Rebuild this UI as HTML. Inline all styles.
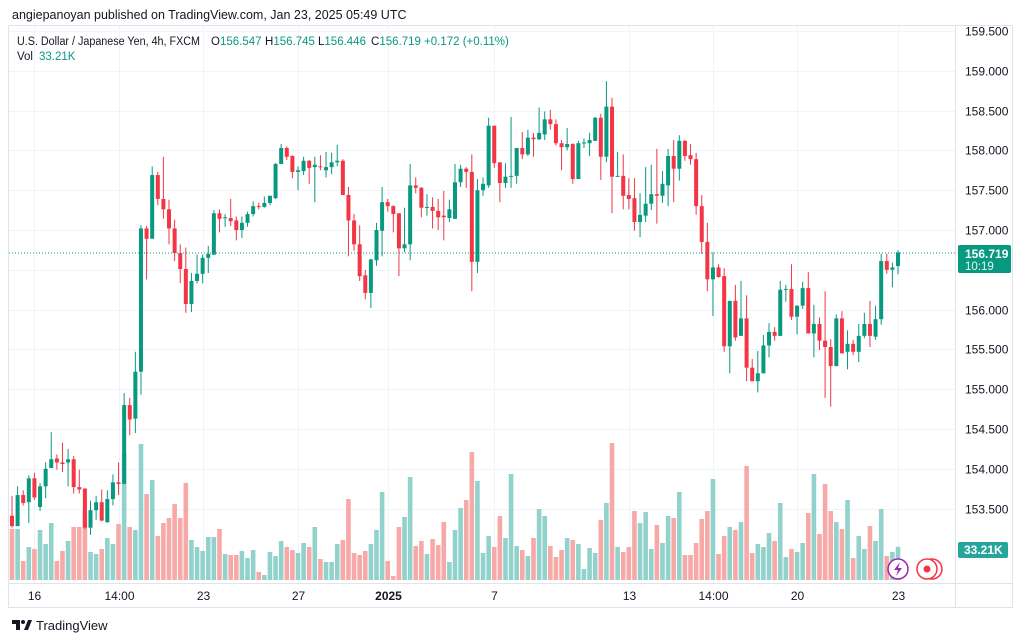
<!DOCTYPE html>
<html><head><meta charset="utf-8">
<style>
body{margin:0;background:#fff;width:1024px;height:641px;overflow:hidden;font-family:"Liberation Sans",sans-serif;}
svg{position:absolute;left:0;top:0;}
</style></head>
<body>
<svg id="chart" width="1024" height="641" xmlns="http://www.w3.org/2000/svg">
  <text x="12" y="19" font-size="12.5" fill="#131722">angiepanoyan published on TradingView.com, Jan 23, 2025 05:49 UTC</text>
  <rect x="8.5" y="25.5" width="1004" height="582" fill="none" stroke="#e0e3eb"/>
  <g id="grid"></g>
  <g id="vol"></g>
  <g id="candles"></g>
  <line x1="9" x2="955" y1="253" y2="253" stroke="#089981" stroke-dasharray="1,2"/>
  <line x1="955.5" x2="955.5" y1="26" y2="607" stroke="#e0e3eb"/>
  <line x1="9" x2="1013" y1="583.5" y2="583.5" stroke="#e0e3eb"/>
  <g id="yaxis"></g>
  <g id="xaxis"></g>
  <g font-size="11.5">
    <text x="17" y="45" fill="#131722" textLength="183" lengthAdjust="spacingAndGlyphs">U.S. Dollar / Japanese Yen, 4h, FXCM</text>
    <text x="211" y="45" fill="#131722">O<tspan fill="#089981">156.547</tspan></text>
    <text x="265" y="45" fill="#131722">H<tspan fill="#089981">156.745</tspan></text>
    <text x="318" y="45" fill="#131722">L<tspan fill="#089981">156.446</tspan></text>
    <text x="371" y="45" fill="#131722">C<tspan fill="#089981">156.719</tspan></text>
    <text x="424" y="45" fill="#089981">+0.172 (+0.11%)</text>
    <text x="17" y="60" fill="#131722">Vol</text>
    <text x="39" y="60" fill="#089981">33.21K</text>
  </g>
  <g>
    <rect x="958" y="245" width="53" height="28" rx="2" fill="#089981"/>
    <text x="965" y="258" font-size="12" font-weight="bold" fill="#fff">156.719</text>
    <text x="965" y="270" font-size="11.5" fill="#e6f5f2">10:19</text>
  </g>
  <g>
    <rect x="958" y="542" width="50" height="16" rx="2" fill="#26a69a"/>
    <text x="964" y="554" font-size="12" font-weight="bold" fill="#fff">33.21K</text>
  </g>
  <g>
    <circle cx="898" cy="569" r="10" fill="#fff" stroke="#9c27b0" stroke-width="1.5"/>
    <path d="M900 562 L894 570 L898 570 L896 576 L902 568 L898 568 Z" fill="#9c27b0"/>
  </g>
  <g>
    <circle cx="932" cy="569" r="10" fill="#fff" stroke="#f23645" stroke-width="1.5"/>
    <circle cx="927" cy="569" r="10" fill="#fff" stroke="#f23645" stroke-width="1.5"/>
    <circle cx="927" cy="569" r="3.5" fill="#f23645"/>
  </g>
  <g>
    <path d="M12 620 h8 v10 h-4 v-6 h-4 z" fill="#131722"/>
    <circle cx="23" cy="622" r="2" fill="#131722"/>
    <path d="M24 630 l4 -10 h4 l-4 10 z" fill="#131722"/>
    <text x="36" y="630" font-size="13" fill="#131722">TradingView</text>
  </g>
</svg>
<script>
const opens=[153.41,153.28,153.67,153.58,153.88,153.52,153.78,154.01,154.13,154.08,154.08,154.12,153.77,153.75,153.26,153.48,153.58,153.33,153.62,153.83,153.81,154.80,154.63,155.22,157.02,156.89,157.69,157.39,157.26,157.02,156.71,156.51,156.07,156.36,156.45,156.65,156.69,157.21,157.15,157.15,157.12,157.00,157.09,157.20,157.30,157.29,157.34,157.40,157.83,158.03,157.93,157.73,157.74,157.87,157.79,157.80,157.75,157.79,157.85,157.87,157.44,157.12,156.82,156.43,156.21,156.62,156.99,157.35,157.30,157.21,156.77,156.82,157.56,157.53,157.28,157.29,157.24,157.18,157.15,157.14,157.60,157.77,157.73,156.60,157.50,157.56,158.31,157.85,157.59,157.67,157.68,158.03,157.95,158.16,158.14,158.20,158.39,158.33,158.09,158.04,158.08,157.64,158.09,158.09,158.12,158.41,157.92,158.55,157.67,157.68,157.44,157.40,157.10,157.18,157.33,157.45,157.43,157.56,157.93,157.77,158.12,157.94,157.89,157.30,156.85,156.38,156.53,156.42,155.54,156.11,155.67,155.89,155.27,155.10,155.20,155.55,155.72,155.67,156.25,156.26,155.91,156.05,156.27,155.70,155.82,155.61,155.53,155.29,155.89,155.47,155.57,155.47,155.67,155.82,155.66,155.88,156.61,156.50,156.547];
const highs=[153.66,153.78,153.73,153.92,153.95,153.82,154.08,154.46,154.18,154.33,154.25,154.16,153.99,153.76,153.60,153.66,153.74,153.73,153.93,154.08,154.95,154.89,155.47,157.06,157.05,157.80,157.73,157.92,157.38,157.13,156.82,156.78,156.46,156.69,156.69,156.80,157.25,157.26,157.20,157.39,157.17,157.17,157.23,157.36,157.34,157.42,157.42,157.84,158.08,158.05,157.94,157.80,157.92,157.88,157.92,157.94,157.98,157.97,158.07,157.89,157.54,157.20,157.06,156.50,156.64,157.09,157.54,157.39,157.31,157.21,157.28,157.83,157.66,157.54,157.45,157.41,157.39,157.49,157.38,157.83,157.82,157.79,157.95,157.64,157.66,158.41,158.31,157.85,157.84,158.42,158.03,158.23,158.26,158.22,158.54,158.49,158.51,158.39,158.13,158.28,158.09,158.12,158.15,158.22,158.42,158.46,158.87,158.66,157.98,157.95,157.65,157.65,157.46,157.79,157.82,158.02,157.74,158.02,158.13,158.19,158.13,158.08,157.97,157.44,157.09,156.72,156.57,156.52,156.11,156.31,156.36,156.18,155.38,155.48,155.68,155.83,155.78,156.36,156.31,156.57,156.05,156.35,156.47,156.06,155.90,156.23,155.63,155.94,155.98,155.74,155.62,155.82,155.96,156.11,156.05,156.70,156.70,156.59,156.745];
const lows=[153.26,153.28,153.54,153.32,153.61,153.47,153.63,154.01,153.99,153.96,153.78,153.69,153.69,153.24,153.17,153.36,153.34,153.32,153.54,153.67,153.81,154.42,154.45,154.93,156.38,156.89,157.31,157.14,156.82,156.61,156.33,155.96,155.97,156.33,156.33,156.46,156.69,156.97,157.04,157.05,156.87,156.90,157.04,157.17,157.26,157.28,157.31,157.39,157.83,157.88,157.65,157.50,157.69,157.58,157.35,157.75,157.66,157.70,157.80,157.44,156.67,156.74,156.36,156.13,156.02,156.55,156.67,157.23,156.97,156.42,156.72,156.62,157.46,157.16,157.18,157.02,157.00,156.87,157.10,157.14,157.54,157.53,156.23,156.46,157.43,157.53,157.78,157.35,157.53,157.53,157.58,157.89,157.93,157.92,158.13,158.13,158.26,158.06,157.75,158.00,157.58,157.64,158.03,157.93,158.12,157.63,157.85,157.21,157.67,157.26,157.26,156.99,156.91,157.10,157.25,157.08,157.34,157.30,157.35,157.62,157.87,157.82,157.19,156.70,156.23,155.92,156.40,155.47,155.20,155.61,155.67,155.10,155.10,154.96,155.20,155.40,155.61,155.67,156.10,155.87,155.69,156.01,155.70,155.40,155.49,154.89,154.78,155.29,155.45,155.25,155.43,155.34,155.64,155.53,155.62,155.81,156.45,156.28,156.446];
const closes=[153.28,153.67,153.57,153.88,153.64,153.78,154.00,154.12,154.08,154.06,154.12,153.77,153.74,153.26,153.48,153.58,153.35,153.62,153.83,153.81,154.80,154.62,155.22,157.02,156.89,157.69,157.39,157.26,157.02,156.71,156.51,156.07,156.36,156.45,156.65,156.70,157.21,157.14,157.16,157.11,157.00,157.09,157.20,157.30,157.29,157.34,157.43,157.83,158.03,157.92,157.73,157.75,157.87,157.78,157.82,157.79,157.79,157.85,157.87,157.44,157.12,156.82,156.42,156.21,156.63,157.00,157.35,157.30,157.20,156.77,156.82,157.56,157.53,157.28,157.29,157.24,157.16,157.16,157.26,157.60,157.77,157.73,156.60,157.50,157.58,158.31,157.84,157.59,157.67,157.68,158.03,157.95,158.16,158.14,158.22,158.39,158.33,158.09,158.04,158.08,157.64,158.09,158.10,158.13,158.41,157.92,158.55,157.67,157.68,157.43,157.39,157.10,157.19,157.33,157.45,157.43,157.58,157.93,157.77,158.12,157.93,157.89,157.30,156.85,156.38,156.53,156.41,155.54,156.11,155.65,155.89,155.27,155.10,155.20,155.55,155.72,155.67,156.25,156.26,155.91,156.05,156.27,155.70,155.82,155.61,155.53,155.29,155.89,155.45,155.57,155.47,155.67,155.82,155.67,155.88,156.61,156.50,156.53,156.719];
const volumes=[51,51,19,33,31,50,36,57,19,29,39,53,53,69,28,26,31,42,36,56,127,53,50,136,86,100,44,57,62,76,62,97,40,33,29,43,43,51,26,25,25,29,22,30,8,5,28,24,39,33,30,27,37,33,53,21,18,18,36,40,81,27,25,29,36,50,88,19,4,53,63,103,34,39,26,41,35,58,18,50,72,80,128,99,27,44,33,64,42,106,34,30,24,42,71,64,34,23,30,42,40,36,11,32,27,60,77,137,33,28,33,69,57,68,31,55,37,64,62,88,25,25,37,61,69,101,26,44,53,50,58,114,27,36,33,47,39,77,23,31,28,37,67,106,46,96,69,58,51,80,22,44,31,54,39,71,24,28,33.21];
const priceTicks=[159.5,159,158.5,158,157.5,157,156.5,156,155.5,155,154.5,154,153.5];
const timeLabels=["16","14:00","23","27","2025","7","13","14:00","20","23"];
const timeLabelIdx=[4,19,34,51,67,86,110,125,140,158];

const NS="http://www.w3.org/2000/svg";
const X0=12, DX=(898-12)/(closes.length-1);
const xs=i=>X0+i*DX;
const ys=p=>31+(159.5-p)*79.6;
const VBASE=580, VSCALE=1.0;
const yv=v=>VBASE-v*VSCALE;
function mk(tag,attrs){const e=document.createElementNS(NS,tag);for(const k in attrs)e.setAttribute(k,attrs[k]);return e;}
const grid=document.getElementById('grid'),yax=document.getElementById('yaxis'),xax=document.getElementById('xaxis');
const lastY=ys(closes[closes.length-1]);
priceTicks.forEach(p=>{
  const y=Math.round(ys(p))+0.5;
  const g=mk('line',{x1:9,x2:955,y1:y,y2:y,stroke:'#f0f3fa'});
  
  
  grid.appendChild(g);
  if(y>lastY && y-lastY<22) return;
  const t=mk('text',{x:965,y:y+4,'font-size':12,fill:'#131722'});
  
  
  t.textContent=p.toFixed(3);yax.appendChild(t);
});
timeLabels.forEach((s,k)=>{
  const x=Math.round(xs(timeLabelIdx[k]))+0.5;
  const g=mk('line',{x1:x,x2:x,y1:26,y2:583,stroke:'#f0f3fa'});
  
  
  grid.appendChild(g);
  const t=mk('text',{x:x,y:600,'font-size':12,fill:'#131722','text-anchor':'middle','font-weight':s==='2025'?'bold':'normal'});
  
  
  t.textContent=s;xax.appendChild(t);
});
const vg=document.getElementById('vol'),cg=document.getElementById('candles');
closes.forEach((c,i)=>{
  const o=opens[i],up=c>=o,x=xs(i);
  const vb=mk('rect',{x:x-2.3,y:yv(volumes[i]),width:4.6,height:VBASE-yv(volumes[i]),fill:up?'#92d2cc':'#f7a9a7'});
  
  
  vg.appendChild(vb);
  const col=up?'#089981':'#f23645';
  const w=mk('line',{x1:x,x2:x,y1:ys(highs[i]),y2:ys(lows[i]),stroke:col,'stroke-width':1});
  
  
  cg.appendChild(w);
  const top=ys(Math.max(o,c)),h=Math.max(1,ys(Math.min(o,c))-top);
  const b=mk('rect',{x:x-2,y:top,width:4,height:h,fill:col});
  
  
  cg.appendChild(b);
});
</script>
</body></html>
